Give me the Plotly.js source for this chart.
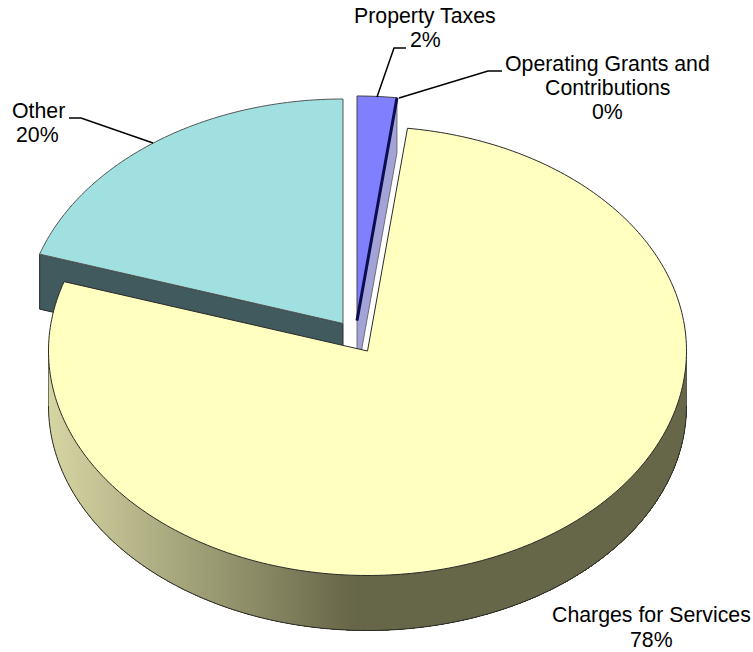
<!DOCTYPE html>
<html>
<head>
<meta charset="utf-8">
<script src="https://cdn.plot.ly/plotly-3.0.1.min.js"></script>
<style>html,body{margin:0;padding:0;background:#fff}#chart{width:753px;height:652px}</style>
</head>
<body>
<div id="chart"></div>
<script>
// Revenue shares, clockwise from twelve o'clock
const categories = ['Property Taxes', 'Operating Grants and Contributions', 'Charges for Services', 'Other'];
const shares = [2, 0, 78, 20];

// Label text, one entry per drawn line
const labelLines = ['Property Taxes', '2%', 'Operating Grants and', 'Contributions', '0%', 'Other', '20%', 'Charges for Services', '78%'];
const labelX = [425, 425, 607.5, 607.5, 607, 38, 37, 651.5, 651];
const labelY = [15.5, 39.5, 63.5, 87.5, 111.5, 110.5, 134.5, 614.5, 639.5];

// Leader polylines for the labelled slices
const leaderX = [[377, 394, 406], [399, 488, 502], [69, 81, 153]];
const leaderY = [[97, 48, 48], [98, 71, 71], [118, 118, 143]];

// Projected disc: ellipse radii, wall height, and each slice's exploded centre
const RX = 319, RY = 224.5, DEPTH = 55;
const centres = [[357, 320.5], [357, 320.5], [367.5, 351], [343, 323.5]];

const topColours = ['#8080ff', '#0c0c50', '#ffffc0', '#a0e0e0'];
const faceColours = ['#a3a3d8', '#0c0c50', '#666648', '#405a5e'];
const EDGE = '#2a2a2a';

// Start and end angle of each slice in degrees
const bounds = [];
shares.reduce((sum, s) => { bounds.push([sum * 3.6, (sum + s) * 3.6]); return sum + s; }, 0);

const rim = (c, deg, drop = 0) => {
  const t = deg * Math.PI / 180;
  return [c[0] + RX * Math.sin(t), c[1] - RY * Math.cos(t) + drop];
};
const arc = (c, a0, a1, drop = 0) => {
  const n = Math.max(1, Math.ceil(Math.abs(a1 - a0)));
  const pts = [];
  for (let i = 0; i <= n; i++) pts.push(rim(c, a0 + (a1 - a0) * i / n, drop));
  return pts;
};
const poly = (pts, fill, line, width) => ({
  type: 'scatter', mode: 'lines', hoverinfo: 'skip', showlegend: false,
  x: pts.map(p => p[0]), y: pts.map(p => p[1]),
  fill: fill ? 'toself' : 'none', fillcolor: fill || undefined,
  line: { color: line, width: width, simplify: false }
});
const wedge = i => [centres[i]].concat(arc(centres[i], bounds[i][0], bounds[i][1]), [centres[i]]);
const cutFace = (c, deg) => {
  const r = rim(c, deg);
  return [c, r, [r[0], r[1] + DEPTH], [c[0], c[1] + DEPTH], c];
};

const traces = [];

// Other: cut face, then top
traces.push(poly(cutFace(centres[3], bounds[3][0]), faceColours[3], EDGE, 1));
traces.push(poly(wedge(3), topColours[3], '#555', 1));

// Property Taxes: cut face, then top
traces.push(poly(cutFace(centres[0], bounds[0][1]), faceColours[0], '#555', 0.8));
traces.push(poly(wedge(0), topColours[0], '#444', 1));

// Operating Grants: a zero-width slice shows only as its dark edge
traces.push(poly(wedge(1), null, topColours[1], 3));

// Charges for Services: outer wall, shaded across the lit side and flat on the rest.
// Each band paints everything to its right, so neighbouring bands leave no seams.
const c2 = centres[2];
const lit = [214, 214, 164], shade = [102, 102, 72];
const wallColour = x => {
  const f = Math.min(1, Math.max(0, (x - 48) / (355 - 48)));
  return 'rgb(' + lit.map((v, k) => Math.round(v + (shade[k] - v) * f)).join(',') + ')';
};
for (let a = 270; a > 180; a -= 0.5) {
  const p = arc(c2, a, 90).concat(arc(c2, 90, a, DEPTH));
  traces.push({ ...poly(p, wallColour(rim(c2, a - 0.25)[0]), 'rgba(0,0,0,0)', 0) });
}
traces.push(poly(arc(c2, 90, 270, DEPTH), null, EDGE, 1));
traces.push(poly([rim(c2, 90), rim(c2, 90, DEPTH)], null, '#555', 0.8));
traces.push(poly([rim(c2, 270), rim(c2, 270, DEPTH)], null, '#555', 0.8));
traces.push(poly(wedge(2), topColours[2], EDGE, 1));

// Leader lines
leaderX.forEach((xs, i) => {
  traces.push({
    type: 'scatter', mode: 'lines', hoverinfo: 'skip', showlegend: false,
    x: xs, y: leaderY[i], line: { color: '#000', width: 1.5 }
  });
});

const layout = {
  width: 753, height: 652,
  margin: { l: 0, r: 0, t: 0, b: 0 },
  paper_bgcolor: '#fff', plot_bgcolor: '#fff',
  showlegend: false,
  xaxis: { range: [0, 753], visible: false, fixedrange: true },
  yaxis: { range: [652, 0], visible: false, fixedrange: true },
  annotations: labelLines.map((t, i) => ({
    text: t, x: labelX[i], y: labelY[i], xref: 'x', yref: 'y',
    showarrow: false, xanchor: 'center', yanchor: 'middle',
    font: { family: '"Liberation Sans", Arial, sans-serif', size: 21.3, color: '#000' }
  }))
};

Plotly.newPlot('chart', traces, layout, { staticPlot: true, displayModeBar: false });
</script>
</body>
</html>
